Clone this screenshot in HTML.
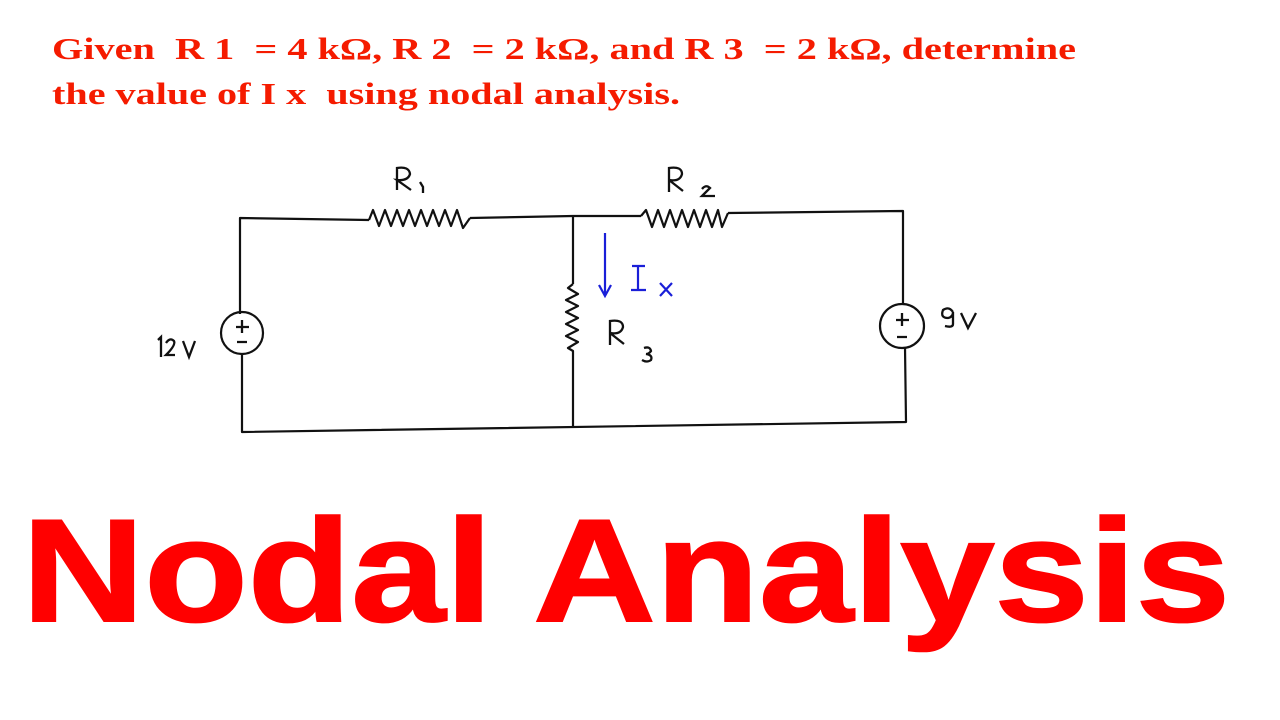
<!DOCTYPE html>
<html><head><meta charset="utf-8"><style>
html,body{margin:0;padding:0;background:#fff;width:1280px;height:720px;overflow:hidden}
</style></head><body>
<svg width="1280" height="720" xmlns="http://www.w3.org/2000/svg">
<rect width="1280" height="720" fill="#fff"/>
<g font-family="Liberation Serif, serif" font-weight="bold" font-size="31" fill="#f51b00">
<text x="52" y="59" textLength="1024" lengthAdjust="spacingAndGlyphs" xml:space="preserve">Given  R 1  = 4 kΩ, R 2  = 2 kΩ, and R 3  = 2 kΩ, determine</text>
<text x="52" y="104" textLength="628" lengthAdjust="spacingAndGlyphs" xml:space="preserve">the value of I x  using nodal analysis.</text>
</g>
<text x="22" y="621" font-family="Liberation Sans, sans-serif" font-weight="bold" font-size="146" fill="#ff0000" stroke="#ff0000" stroke-width="2" textLength="1208" lengthAdjust="spacingAndGlyphs">Nodal Analysis</text>
<g stroke="#111" stroke-width="2.2" fill="none" stroke-linejoin="round">
<polyline points="240,314 240,218 369,220"/>
<polyline points="369,220 373,210 379,226 385,210 391,226 397,210 403,226 409,210 415,226 421,210 427,226 433,210 439,226 445,210 451,226 457,210 463,228 470,218"/>
<polyline points="470,218 573,216 641,216"/>
<polyline points="641,216 646,210 652,227 658,210 664,227 670,210 676,227 682,210 688,227 694,210 700,227 706,210 712,227 718,210 722,227 728,213"/>
<polyline points="728,213 903,211 903,305"/>
<circle cx="242" cy="333" r="21"/>
<polyline points="242,354 242,432 906,422 905,347"/>
<circle cx="902" cy="326" r="22"/>
<polyline points="573,216 573,284"/>
<polyline points="573,284 568,288 578,294 566,300 578,306 566,312 578,318 566,324 578,330 566,336 578,342 568,348 573,351 573,428"/>
</g>
<g stroke="#111" stroke-width="2.3" fill="none">
<path d="M236,327 h13 M242,320 v13 M237,342 h10"/>
<path d="M896,320 h13 M902,313 v13 M897,337 h10"/>
<path d="M158,340 l3,-3 v20 M166,343 q4,-6 8,-2 q2,4 -8,14 h9 M183,341 l6,16 l6,-16"/>
<path d="M953,312 q-4,-6 -10,-2 q-3,8 5,8 q5,-1 5,-6 v12 q0,4 -8,2 M961,313 l7,15 l8,-15"/>
<path d="M397,190 v-22 q12,-2 13,6 q-2,7 -13,6 l14,10 M420,182 l3,5 v6"/>
<path d="M669,192 v-24 q13,-2 13,6 q-2,8 -13,6 l14,11 M702,189 q4,-5 8,-1 l-8,8 h13"/>
<path d="M610,345 v-24 q13,-2 13,6 q-2,8 -13,6 l14,11 M644,348 q6,-2 7,3 q-2,3 -5,3 q7,1 5,6 q-4,3 -9,0"/>
</g>
<g stroke="#1a1fd8" stroke-width="2.2" fill="none">
<path d="M605,233 v63 M599,285 l6,11 l6,-11"/>
<path d="M632,266 h13 M638,266 v25 M631,290 h15"/>
<path d="M660,283 l12,13 M672,283 l-12,13"/>
</g>
</svg>
</body></html>
